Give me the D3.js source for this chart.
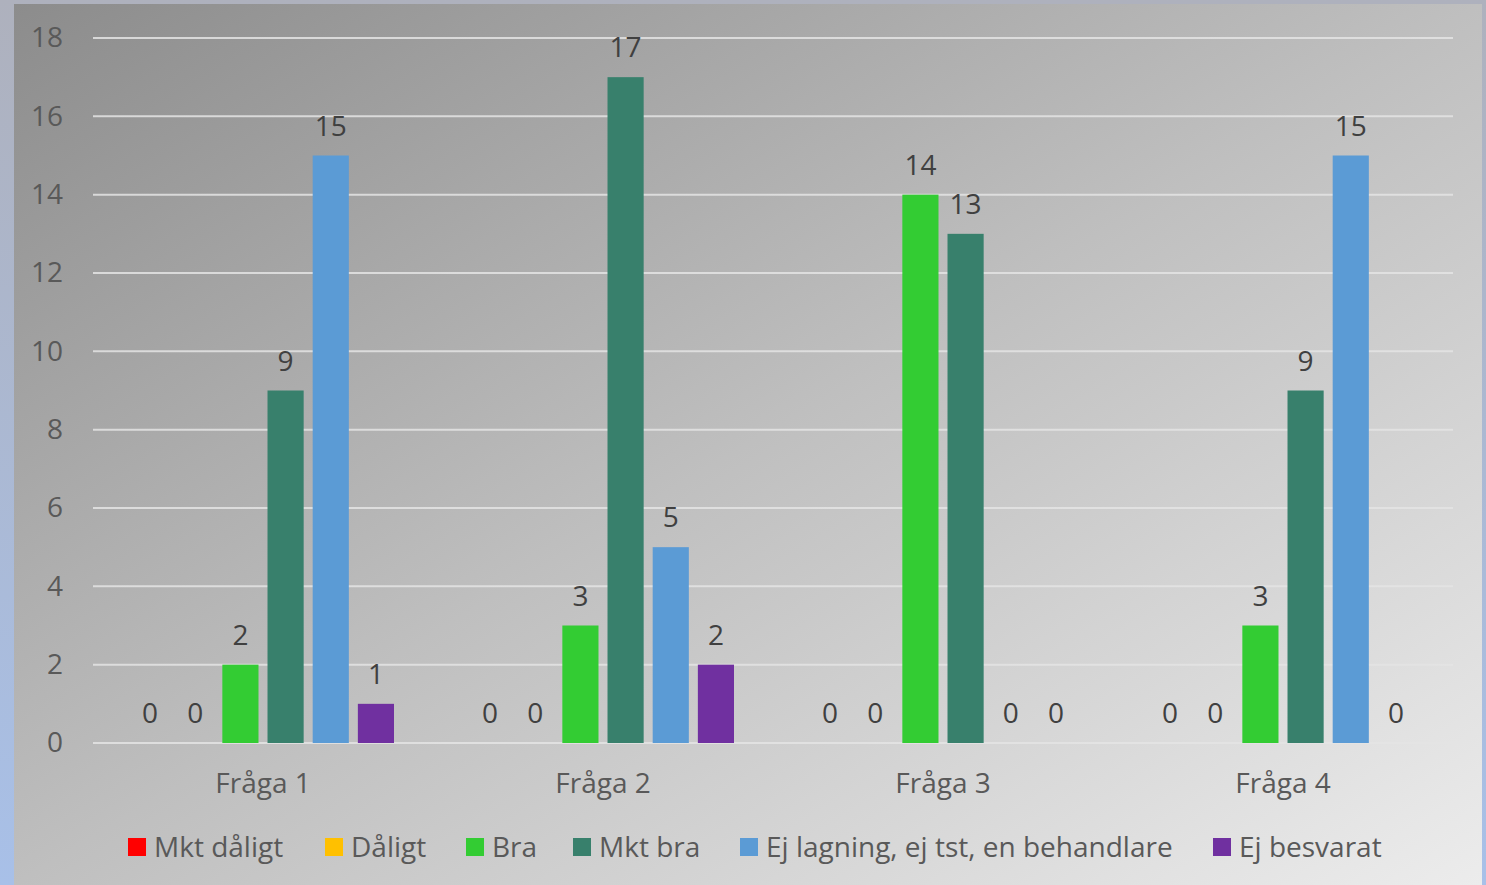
<!DOCTYPE html>
<html>
<head>
<meta charset="utf-8">
<script src="https://cdn.jsdelivr.net/npm/d3@7"></script>
<style>
  html, body { margin: 0; padding: 0; }
  body { width: 1486px; height: 885px; overflow: hidden; }
  text { font-family: "Open Sans", sans-serif; }
</style>
</head>
<body>
<div class="chart"></div>
<script>
// data
const categories = ["Fråga 1", "Fråga 2", "Fråga 3", "Fråga 4"];
const seriesNames = ["Mkt dåligt", "Dåligt", "Bra", "Mkt bra", "Ej lagning, ej tst, en behandlare", "Ej besvarat"];
const seriesColors = ["#ff0000", "#ffc000", "#33cc33", "#38806c", "#5b9bd5", "#7030a0"];
const mktDaligt = [0, 0, 0, 0];
const daligt = [0, 0, 0, 0];
const bra = [2, 3, 14, 3];
const mktBra = [9, 17, 13, 9];
const ejLagning = [15, 5, 0, 15];
const ejBesvarat = [1, 2, 0, 0];
const yTicks = [0, 2, 4, 6, 8, 10, 12, 14, 16, 18];

const seriesValues = [mktDaligt, daligt, bra, mktBra, ejLagning, ejBesvarat];

const W = 1486, H = 885;
const margin = ({top: 38, right: 33, bottom: 142, left: 93});
const width = W - margin.left - margin.right,
      height = H - margin.top - margin.bottom;

const root = d3.select(".chart").append("svg")
    .attr("width", W)
    .attr("height", H);

const defs = root.append("defs");
const frameGrad = defs.append("linearGradient")
    .attr("id", "frameGrad").attr("x1", 0).attr("y1", 0).attr("x2", 0).attr("y2", 1);
frameGrad.append("stop").attr("offset", "0%").attr("stop-color", "#aeb1bd");
frameGrad.append("stop").attr("offset", "100%").attr("stop-color", "#a8c0e8");

const bgGrad = defs.append("linearGradient")
    .attr("id", "bgGrad").attr("x1", 0).attr("y1", 0).attr("x2", 1).attr("y2", 1);
bgGrad.append("stop").attr("offset", "0%").attr("stop-color", "#8c8c8c");
bgGrad.append("stop").attr("offset", "50%").attr("stop-color", "#bfbfbf");
bgGrad.append("stop").attr("offset", "100%").attr("stop-color", "#ececec");

root.append("rect").attr("width", W).attr("height", H).attr("fill", "url(#frameGrad)");
root.append("rect")
    .attr("x", 14).attr("y", 4)
    .attr("width", 1468).attr("height", H - 4)
    .attr("fill", "url(#bgGrad)");

const svg = root.append("g")
    .attr("transform", "translate(" + margin.left + "," + margin.top + ")");

const x0 = d3.scaleBand()
    .domain(categories)
    .range([0, width]);

const x1 = d3.scaleBand()
    .domain(d3.range(seriesNames.length))
    .range([39, x0.bandwidth() - 39])
    .paddingInner(0.2);

const yScale = d3.scaleLinear()
    .domain([0, 18])
    .range([height, 0]);

// gridlines
svg.append("g")
    .selectAll("line")
    .data(yTicks)
    .enter().append("line")
    .attr("x1", 0).attr("x2", width)
    .attr("y1", d => yScale(d)).attr("y2", d => yScale(d))
    .attr("stroke", "#e4e4e4")
    .attr("stroke-opacity", 0.85)
    .attr("stroke-width", 2);

// y axis
const yAxis = d3.axisLeft(yScale).tickValues(yTicks).tickSize(0).tickPadding(30);
svg.append("g")
    .attr("class", "y-axis")
    .call(yAxis)
    .call(g => g.select(".domain").remove())
    .selectAll("text")
    .attr("fill", "#595959")
    .style("font-size", "28px");

// x axis labels
const xAxis = d3.axisBottom(x0).tickSize(0).tickPadding(30);
svg.append("g")
    .attr("class", "x-axis")
    .attr("transform", "translate(0," + height + ")")
    .call(xAxis)
    .call(g => g.select(".domain").remove())
    .selectAll("text")
    .attr("fill", "#595959")
    .style("font-size", "28px");

// bars
const rows = [];
categories.forEach((c, i) => {
    seriesValues.forEach((vals, s) => {
        rows.push({cat: c, s: s, v: vals[i]});
    });
});

svg.selectAll("rect.bar")
    .data(rows)
    .enter().append("rect")
    .attr("class", "bar")
    .attr("x", d => x0(d.cat) + x1(d.s))
    .attr("y", d => yScale(d.v))
    .attr("width", x1.bandwidth())
    .attr("height", d => height - yScale(d.v))
    .style("fill", d => seriesColors[d.s]);

svg.selectAll("text.lbl")
    .data(rows)
    .enter().append("text")
    .attr("class", "lbl")
    .attr("x", d => x0(d.cat) + x1(d.s) + x1.bandwidth() / 2)
    .attr("y", d => yScale(d.v) - 20)
    .attr("text-anchor", "middle")
    .attr("fill", "#404040")
    .style("font-size", "28px")
    .text(d => d.v);

// legend
const legendX = [128, 325, 466, 573, 740, 1213];
const legend = root.append("g")
    .selectAll("g")
    .data(seriesNames)
    .enter().append("g")
    .attr("transform", (d, i) => "translate(" + legendX[i] + ",838)");

legend.append("rect")
    .attr("width", 18).attr("height", 18)
    .attr("fill", (d, i) => seriesColors[i]);

legend.append("text")
    .attr("x", 26)
    .attr("y", 19)
    .attr("fill", "#595959")
    .style("font-size", "28px")
    .text(d => d);
</script>
</body>
</html>
